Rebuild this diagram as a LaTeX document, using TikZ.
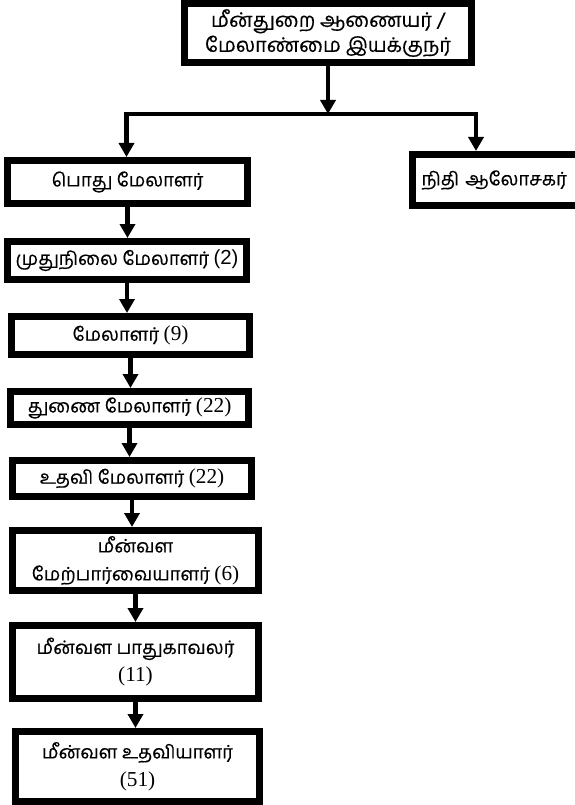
\documentclass[tikz,border=0pt]{standalone}
\usepackage{fontspec}
\setmainfont{Liberation Serif}
\newfontfamily\tamil[Script=Tamil, FakeBold=0.4]{Hind Madurai}
\newfontfamily\arial[Scale=1.1]{Liberation Sans}
\newfontfamily\serifnum[Scale=1.15]{Liberation Serif}
\newcommand\cnt[1]{{\serifnum #1}}
\usetikzlibrary{arrows.meta}

\begin{document}
\begin{tikzpicture}
    [
        post/.style={rectangle, draw, line width=7pt, inner sep=0pt, align=center,
            font=\tamil\fontsize{18.5}{28}\selectfont},
        link/.style={line width=4.5pt},
        arrow/.style={link, -{Triangle[length=14pt, width=15pt]}},
        x=1pt, y=-1pt,
    ]
    \clip (0,0) rectangle (575,805);
    \node (comm) at (328,33) [post, minimum width=287pt, minimum height=59pt,
        font=\tamil\fontsize{20}{25}\selectfont] {மீன்துறை ஆணையர் /\\மேலாண்மை இயக்குநர்};
    \node (gm) at (127.5,182) [post, minimum width=240pt, minimum height=43pt] {பொது மேலாளர்};
    \node (fin) at (409,180) [post, anchor=west, inner xsep=9pt, text width=170pt, align=left,
        minimum height=51pt] {நிதி ஆலோசகர்};
    \node (sm) at (127,260.5) [post, minimum width=239pt, minimum height=38pt] {முதுநிலை மேலாளர் {\arial (2)}};
    \node (m) at (130.5,335.5) [post, minimum width=238pt, minimum height=38pt] {மேலாளர் \cnt{(9)}};
    \node (dm) at (129.5,408) [post, minimum width=238pt, minimum height=33pt] {துணை மேலாளர் \cnt{(22)}};
    \node (am) at (132,478.5) [post, minimum width=239pt, minimum height=36pt] {உதவி மேலாளர் \cnt{(22)}};
    \node (sup) at (135.5,560.5) [post, minimum width=246pt, minimum height=60pt] {மீன்வள\\மேற்பார்வையாளர் \cnt{(6)}};
    \node (grd) at (135.5,662) [post, minimum width=246pt, minimum height=73pt] {மீன்வள பாதுகாவலர்\\\cnt{(11)}};
    \node (asst) at (137.5,766.5) [post, minimum width=244pt, minimum height=70pt] {மீன்வள உதவியாளர்\\\cnt{(51)}};
    \coordinate (split) at (328,114);
    \coordinate (lj) at (126.5,114);
    \coordinate (rj) at (476,114);
    \draw [arrow] (comm) -- (split);
    \draw [link, line cap=rect] (lj) -- (rj);
    \draw [arrow] (lj) -- (lj |- gm.north);
    \draw [arrow] (rj) -- (rj |- fin.north);
    \draw [arrow] (gm.south) -- (gm.south |- sm.north);
    \draw [arrow] (sm.south) -- (sm.south |- m.north);
    \draw [arrow] (m.south) -- (m.south |- dm.north);
    \draw [arrow] (dm.south) -- (dm.south |- am.north);
    \draw [arrow] (am.south) -- (am.south |- sup.north);
    \draw [arrow] (sup.south) -- (sup.south |- grd.north);
    \draw [arrow] (grd.south) -- (grd.south |- asst.north);
\end{tikzpicture}
\end{document}
